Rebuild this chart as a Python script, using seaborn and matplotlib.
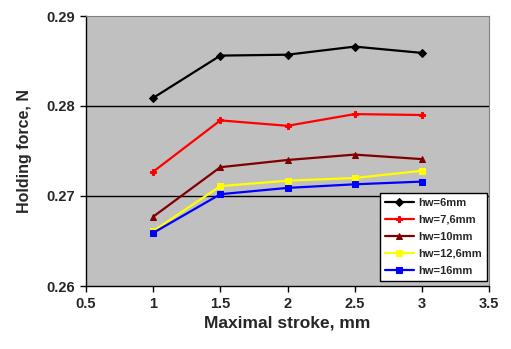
import matplotlib
matplotlib.use("Agg")
import matplotlib.pyplot as plt
import seaborn as sns
import pandas as pd

stroke = [1, 1.5, 2, 2.5, 3]
hw6 = [0.2809, 0.2856, 0.2857, 0.2866, 0.2859]
hw76 = [0.2727, 0.2784, 0.2778, 0.2791, 0.2790]
hw10 = [0.2677, 0.2732, 0.2740, 0.2746, 0.2741]
hw126 = [0.2661, 0.2711, 0.2717, 0.2720, 0.2728]
hw16 = [0.2659, 0.2702, 0.2709, 0.2713, 0.2716]
labels = ["hw=6mm", "hw=7,6mm", "hw=10mm", "hw=12,6mm", "hw=16mm"]
series = [hw6, hw76, hw10, hw126, hw16]
colors = ["black", "red", "#800000", "#FFFF00", "#0000FF"]
markers = ["D", "P", "^", "s", "s"]
msizes = [4, 5, 5, 5, 5]

sns.set_style("white")
plt.rcParams['font.family'] = ['Liberation Sans', 'DejaVu Sans']

rows = []
for lab, vals in zip(labels, series):
    for x, v in zip(stroke, vals):
        rows.append({"stroke": x, "force": v, "series": lab})
df = pd.DataFrame(rows)

fig = plt.figure(figsize=(5.11, 3.49), dpi=100)
ax = fig.add_axes([86/511, 1 - 286/349, (489-86)/511, (286-16)/349])
ax.set_facecolor("#C0C0C0")

for lab, c, m, ms in zip(labels, colors, markers, msizes):
    sub = df[df.series == lab]
    sns.lineplot(data=sub, x="stroke", y="force", ax=ax, color=c, marker=m,
                 markersize=ms, markeredgecolor=c, linewidth=1.6, label=lab)

ax.set_xlim(0.5, 3.5)
ax.set_ylim(0.26, 0.29)
ax.set_xticks([0.5, 1, 1.5, 2, 2.5, 3, 3.5])
ax.set_xticklabels(["0.5", "1", "1.5", "2", "2.5", "3", "3.5"])
ax.set_yticks([0.26, 0.27, 0.28, 0.29])
ax.set_yticklabels(["0.26", "0.27", "0.28", "0.29"])
for yv in [0.27, 0.28]:
    ax.axhline(yv, color="black", linewidth=1.0, zorder=1)
ax.tick_params(axis="both", direction="out", length=4, width=1, color="black",
               labelsize=10.5, pad=4, bottom=True, left=True)
for t in ax.get_xticklabels() + ax.get_yticklabels():
    t.set_fontweight("bold")
for s in ["left", "bottom"]:
    ax.spines[s].set_color("black")
    ax.spines[s].set_linewidth(1.0)
for s in ["top", "right"]:
    ax.spines[s].set_color("#808080")
    ax.spines[s].set_linewidth(0.8)

ax.set_xlabel("Maximal stroke, mm", fontsize=12.5, fontweight="bold", labelpad=3)
ax.set_ylabel("Holding force, N", fontsize=11.5, fontweight="bold", labelpad=10)

leg = ax.legend(loc="lower right", bbox_to_anchor=(0.995, 0.02), frameon=True,
                fancybox=False, edgecolor="black", facecolor="white", framealpha=1,
                fontsize=8, handlelength=2.6, borderpad=0.45, labelspacing=0.62,
                handletextpad=0.4, borderaxespad=0)
leg.get_frame().set_linewidth(1.0)
for t in leg.get_texts():
    t.set_fontweight("bold")

fig.savefig("out.png", dpi=100)
